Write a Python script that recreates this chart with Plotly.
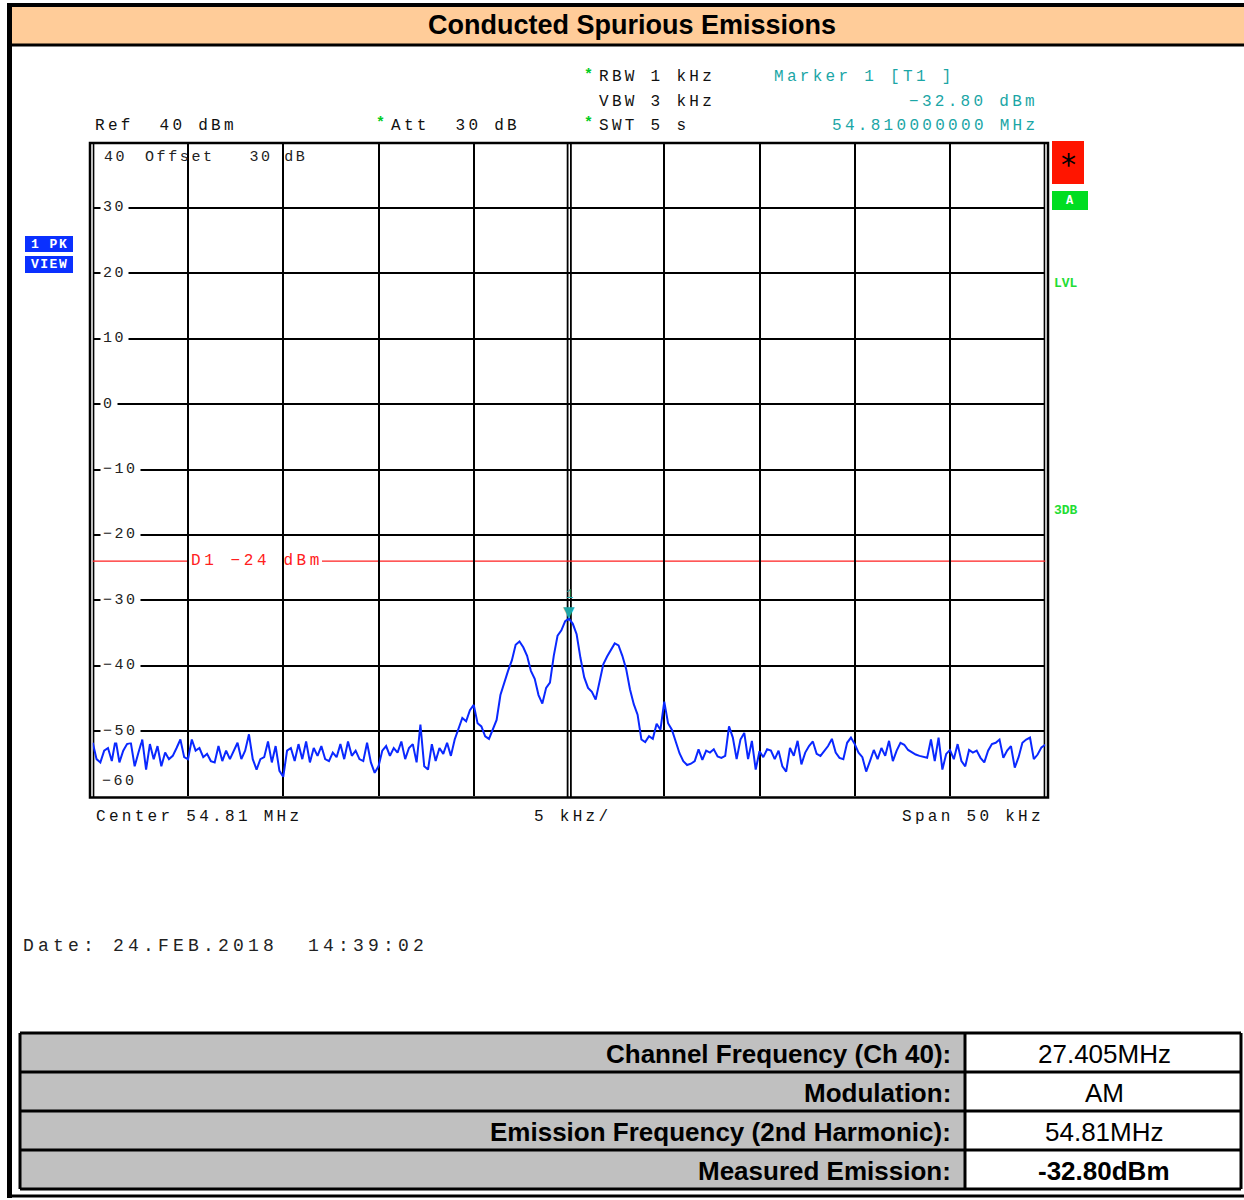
import numpy as np
import plotly.graph_objects as go

W, H = 1244, 1200

# ---------------- data ----------------
CENTER_MHZ = 54.81
SPAN_KHZ = 50
KHZ_PER_DIV = 5
REF_DBM = 40
BOTTOM_DBM = -60
DB_PER_DIV = 10
D1_DBM = -24
MARKER_FREQ_MHZ = 54.81
MARKER_DBM = -32.80

# trace levels (dBm), 0.2 kHz steps from -25 kHz to +25 kHz
seg_a = [-51.8, -54.3, -54.8, -53.0, -52.6, -54.6, -51.3, -54.8, -53.0, -52.0,
         -51.8, -55.4, -53.3, -51.3, -55.9, -52.0, -54.3, -52.3, -55.4, -53.3,
         -54.3, -53.8, -52.6, -51.3, -54.0]
seg_b = [-54.3, -51.3, -53.0, -52.6, -54.0, -53.5, -54.6, -54.8, -52.3, -54.6,
         -53.0, -54.3, -53.0, -51.8, -54.3, -53.0, -50.5, -54.3, -55.9, -54.3,
         -54.0, -51.6, -54.8, -52.3, -56.1]
seg_c = [-57.0, -53.0, -52.6, -54.6, -52.0, -54.3, -51.6, -54.8, -52.6, -53.8,
         -52.3, -54.3, -54.6, -53.3, -54.0, -52.0, -54.3, -51.6, -53.8, -53.0,
         -54.3, -54.6, -51.8, -54.8, -56.4]
seg_d = [-55.4, -53.0, -52.3, -53.8, -52.6, -53.3, -51.6, -54.3, -52.6, -52.0,
         -54.8, -49.0, -55.4, -55.9, -52.0, -54.6, -52.6, -53.5, -51.8, -53.8,
         -51.3, -49.5, -48.0, -48.5, -46.8]
seg_e = [-46.0, -48.8, -49.3, -50.8, -51.2, -49.6, -48.3, -44.5, -42.5, -40.8,
         -39.2, -36.8, -36.3, -37.2, -38.5, -40.8, -42.0, -44.5, -45.8, -43.4,
         -42.6, -38.5, -35.4, -34.6, -33.2]
seg_f = [-32.8, -33.6, -35.2, -38.8, -41.8, -43.4, -44.0, -45.2, -42.2, -39.8,
         -38.6, -37.5, -36.6, -36.9, -38.5, -40.5, -43.6, -45.9, -47.5, -51.3,
         -51.7, -50.8, -51.2, -48.9, -49.8]
seg_g = [-45.5, -48.8, -49.8, -51.5, -53.4, -54.6, -55.2, -55.0, -54.6, -52.8,
         -54.4, -53.0, -53.3, -52.8, -53.9, -54.1, -53.8, -49.3, -51.0, -54.3,
         -51.3, -50.3, -54.3, -51.5, -55.9]
seg_h = [-53.1, -54.0, -52.8, -53.0, -54.3, -53.0, -55.4, -56.2, -52.6, -53.8,
         -51.5, -55.1, -53.3, -52.3, -51.6, -53.5, -53.8, -53.0, -52.3, -51.2,
         -53.3, -54.1, -54.3, -51.8, -51.0]
seg_i = [-52.0, -53.3, -54.0, -56.2, -54.6, -52.9, -54.3, -52.6, -53.8, -51.5,
         -54.6, -53.0, -51.8, -52.1, -52.9, -53.3, -53.6, -53.8, -54.0, -54.1,
         -51.3, -54.6, -51.0, -55.9, -53.5]
seg_j = [-52.9, -54.3, -52.0, -54.6, -55.4, -52.9, -53.3, -53.0, -54.1, -54.8,
         -53.0, -52.0, -51.8, -51.3, -54.1, -53.0, -52.3, -55.6, -54.0, -51.8,
         -51.3, -51.0, -54.3, -53.6, -52.5, -52.1]

trace_dbm = seg_a + seg_b + seg_c + seg_d + seg_e + seg_f + seg_g + seg_h + seg_i + seg_j
offset_khz = np.linspace(-SPAN_KHZ / 2, SPAN_KHZ / 2, len(trace_dbm))
freq_mhz = CENTER_MHZ + offset_khz / 1000.0

y_tick_vals = [30, 20, 10, 0, -10, -20, -30, -40, -50]
y_tick_text = ["30", "20", "10", "0", "\u221210", "\u221220", "\u221230", "\u221240", "\u221250"]

table_labels = ["Channel Frequency (Ch 40):", "Modulation:",
                "Emission Frequency (2nd Harmonic):", "Measured Emission:"]
table_values = ["27.405MHz", "AM", "54.81MHz", "-32.80dBm"]
table_value_bold = [False, False, False, True]

TITLE = "Conducted Spurious Emissions"
DATE_TEXT = "Date: 24.FEB.2018\u00a0\u00a014:39:02"

# ---------------- helpers ----------------
def PX(x):
    return x / W

def PY(y):
    return 1 - y / H

MONO = "Liberation Mono, DejaVu Sans Mono, monospace"
NARROW = "Liberation Sans Narrow, Liberation Sans, Arial, sans-serif"
TEAL = "#1ba6a6"
GREEN = "#00cc22"

def sp(txt, ls=3.3):
    return '<span style="letter-spacing:%spx">%s</span>' % (ls, txt)

# plot area
X0, X1 = 92.75, 1045.25
Y0, Y1 = 142.6, 796.4

fig = go.Figure()
fig.add_trace(go.Scatter(x=freq_mhz, y=trace_dbm, mode="lines",
                         line=dict(color="#0a28ff", width=2), hoverinfo="skip",
                         showlegend=False))

half = SPAN_KHZ / 2 / 1000.0
x_grid = [CENTER_MHZ + k * KHZ_PER_DIV / 1000.0 for k in range(-5, 6) if k != 0]

fig.update_layout(
    width=W, height=H, margin=dict(l=0, r=0, t=0, b=0),
    paper_bgcolor="white", plot_bgcolor="white", showlegend=False,
    xaxis=dict(domain=[PX(X0), PX(X1)], range=[CENTER_MHZ - half, CENTER_MHZ + half],
               tickmode="array", tickvals=x_grid, showticklabels=False, ticks="",
               showgrid=True, gridcolor="#000", gridwidth=2, zeroline=False,
               showline=False, fixedrange=True),
    yaxis=dict(domain=[PY(Y1), PY(Y0)], range=[BOTTOM_DBM, REF_DBM],
               tickmode="linear", tick0=0, dtick=DB_PER_DIV, showticklabels=False,
               ticks="", showgrid=True, gridcolor="#000", gridwidth=2,
               zeroline=False, showline=False, fixedrange=True),
)

shapes = []
ann = []

# ---- page frame & title bar ----
shapes.append(dict(type="rect", xref="paper", yref="paper", x0=PX(10), x1=PX(1246),
                   y0=PY(45), y1=PY(5), fillcolor="#ffcc99", line=dict(width=0), layer="below"))
shapes.append(dict(type="line", xref="paper", yref="paper", x0=PX(7), x1=PX(1246),
                   y0=PY(5), y1=PY(5), line=dict(color="#000", width=4)))
shapes.append(dict(type="line", xref="paper", yref="paper", x0=PX(7), x1=PX(1246),
                   y0=PY(45), y1=PY(45), line=dict(color="#000", width=3)))
shapes.append(dict(type="line", xref="paper", yref="paper", x0=PX(9.5), x1=PX(9.5),
                   y0=PY(3), y1=PY(1198), line=dict(color="#000", width=5)))
shapes.append(dict(type="line", xref="paper", yref="paper", x0=PX(7), x1=PX(1246),
                   y0=PY(1196), y1=PY(1196), line=dict(color="#000", width=3)))
ann.append(dict(xref="paper", yref="paper", x=PX(632), y=PY(25), text="<b>%s</b>" % TITLE,
                showarrow=False, font=dict(family=NARROW, size=27, color="#000"),
                xanchor="center", yanchor="middle"))

# ---- plot frame ----
shapes.append(dict(type="rect", xref="paper", yref="paper", x0=PX(90), x1=PX(1048),
                   y0=PY(797.5), y1=PY(143), line=dict(color="#000", width=2.5), layer="above"))
for xp in (X0 + 0.8, X1 - 0.8):
    shapes.append(dict(type="line", xref="paper", yref="paper", x0=PX(xp), x1=PX(xp),
                       y0=PY(797.5), y1=PY(143), line=dict(color="#000", width=1.6), layer="between"))
for xp in (567.6, 570.9):
    shapes.append(dict(type="line", xref="paper", yref="paper", x0=PX(xp), x1=PX(xp),
                       y0=PY(797.5), y1=PY(143), line=dict(color="#000", width=1.8), layer="between"))

# D1 display line (broken around its label)
shapes.append(dict(type="line", xref="paper", yref="y", x0=PX(X0), x1=PX(189),
                   y0=D1_DBM, y1=D1_DBM, line=dict(color="#ff2020", width=1.3), layer="between"))
shapes.append(dict(type="line", xref="paper", yref="y", x0=PX(322), x1=PX(X1),
                   y0=D1_DBM, y1=D1_DBM, line=dict(color="#ff2020", width=1.3), layer="between"))
ann.append(dict(xref="paper", yref="y", x=PX(189), y=D1_DBM,
                text=sp("D1\u00a0\u2212%d\u00a0dBm" % (-D1_DBM), 3.6), showarrow=False,
                font=dict(family=MONO, size=16, color="#ff2020"),
                xanchor="left", yanchor="middle"))

# y tick labels inside the grid
for v, t in zip(y_tick_vals, y_tick_text):
    ann.append(dict(xref="paper", yref="y", x=PX(100), y=v, text=sp(t, 2.5), showarrow=False,
                    font=dict(family=MONO, size=15, color="#222"), bgcolor="white",
                    borderpad=2, xanchor="left", yanchor="middle"))
ann.append(dict(xref="paper", yref="paper", x=PX(102), y=PY(158), text=sp(str(REF_DBM), 2.5),
                showarrow=False, font=dict(family=MONO, size=15, color="#222"),
                xanchor="left", yanchor="middle"))
ann.append(dict(xref="paper", yref="paper", x=PX(143), y=PY(158),
                text=sp("Offset\u00a0\u00a0\u00a030\u00a0dB", 2.6), showarrow=False,
                font=dict(family=MONO, size=15, color="#222"), xanchor="left", yanchor="middle"))
ann.append(dict(xref="paper", yref="paper", x=PX(100), y=PY(782),
                text=sp("\u2212" + str(-BOTTOM_DBM), 2.5), showarrow=False,
                font=dict(family=MONO, size=15, color="#222"), xanchor="left", yanchor="middle"))

# marker
ann.append(dict(x=MARKER_FREQ_MHZ, y=MARKER_DBM, text="\u25bc", showarrow=False,
                font=dict(family="DejaVu Sans", size=15, color=TEAL),
                xanchor="center", yanchor="bottom", yshift=-4))
ann.append(dict(x=MARKER_FREQ_MHZ, y=MARKER_DBM, text="1", showarrow=False,
                font=dict(family=MONO, size=12, color=TEAL),
                xanchor="center", yanchor="bottom", yshift=15))

# header texts
def hdr(x, y, text, color="#111", anchor="left", size=16, ls=3.3):
    ann.append(dict(xref="paper", yref="paper", x=PX(x), y=PY(y), text=sp(text, ls),
                    showarrow=False, font=dict(family=MONO, size=size, color=color),
                    xanchor=anchor, yanchor="middle"))

def star(x, y):
    ann.append(dict(xref="paper", yref="paper", x=PX(x), y=PY(y), text="<b>*</b>",
                    showarrow=False, font=dict(family=MONO, size=15, color=GREEN),
                    xanchor="left", yanchor="middle"))

hdr(93, 126, "Ref\u00a0\u00a0%d\u00a0dBm" % REF_DBM)
star(374, 124)
hdr(389, 126, "Att\u00a0\u00a030\u00a0dB")
star(582, 75)
hdr(597, 77, "RBW\u00a01\u00a0kHz")
hdr(597, 102, "VBW\u00a03\u00a0kHz")
star(582, 124)
hdr(597, 126, "SWT\u00a05\u00a0s")
hdr(772, 77, "Marker\u00a01\u00a0[T1\u00a0]", color=TEAL)
hdr(1040, 102, "\u2212%.2f\u00a0dBm" % (-MARKER_DBM), color=TEAL, anchor="right")
hdr(1040, 126, "%.9f\u00a0MHz" % MARKER_FREQ_MHZ, color=TEAL, anchor="right")

# bottom axis texts
hdr(94, 817, "Center\u00a0%g\u00a0MHz" % CENTER_MHZ)
hdr(532, 817, "%d\u00a0kHz/" % KHZ_PER_DIV)
hdr(1046, 817, "Span\u00a0%d\u00a0kHz" % SPAN_KHZ, anchor="right")

# date
hdr(21, 946, DATE_TEXT, color="#222", size=18, ls=4.2)

# side labels
def box(x0, y0, x1, y1, color):
    shapes.append(dict(type="rect", xref="paper", yref="paper", x0=PX(x0), x1=PX(x1),
                       y0=PY(y1), y1=PY(y0), fillcolor=color, line=dict(width=0)))

def ctext(x, y, text, size, color, family=MONO, anchor="center"):
    ann.append(dict(xref="paper", yref="paper", x=PX(x), y=PY(y), text=text,
                    showarrow=False, xanchor=anchor, yanchor="middle",
                    font=dict(family=family, size=size, color=color)))

box(25, 236, 73, 252, "#0a30ff")
box(25, 256, 73, 273, "#0a30ff")
ctext(49, 244, sp("<b>1\u00a0PK</b>", 1.5), 13, "white")
ctext(49, 264.5, sp("<b>VIEW</b>", 1.5), 13, "white")
box(1052, 141, 1084, 184, "#ff1500")
ctext(1068, 164, "*", 30, "#000", family="DejaVu Sans")
box(1052, 191, 1088, 210, "#00dd22")
ctext(1070, 200.5, "<b>A</b>", 12, "white")
ctext(1052, 283, "<b>LVL</b>", 13, "#22dd33", anchor="left")
ctext(1052, 510, "<b>3DB</b>", 13, "#22dd33", anchor="left")

# ---- table ----
T_X0, T_X1, T_SPLIT = 20, 1241, 965
row_edges = [1033, 1072, 1111, 1150, 1189]
for i in range(len(table_labels)):
    top, bot = row_edges[i], row_edges[i + 1]
    box(T_X0, top, T_SPLIT, bot, "#c0c0c0")
    mid = (top + bot) / 2
    ann.append(dict(xref="paper", yref="paper", x=PX(953), y=PY(mid + 1),
                    text="<b>%s</b>" % table_labels[i], showarrow=False,
                    font=dict(family=NARROW, size=26, color="#000"),
                    xanchor="right", yanchor="middle"))
    val = table_values[i]
    if table_value_bold[i]:
        val = "<b>%s</b>" % val
    ann.append(dict(xref="paper", yref="paper", x=PX(1104), y=PY(mid + 1), text=val,
                    showarrow=False, font=dict(family=NARROW, size=26, color="#000"),
                    xanchor="center", yanchor="middle"))
for yv in row_edges:
    shapes.append(dict(type="line", xref="paper", yref="paper", x0=PX(T_X0), x1=PX(T_X1),
                       y0=PY(yv), y1=PY(yv), line=dict(color="#000", width=3)))
for xv in (T_X0, T_SPLIT, T_X1):
    shapes.append(dict(type="line", xref="paper", yref="paper", x0=PX(xv), x1=PX(xv),
                       y0=PY(row_edges[0]), y1=PY(row_edges[-1]), line=dict(color="#000", width=3)))

fig.update_layout(shapes=shapes, annotations=ann)
fig.write_html(
    "out.html",
    config={"displayModeBar": False},
    post_script=("document.body.style.margin='0';document.body.style.padding='0';"
                 "document.body.style.overflow='hidden';"
                 "document.documentElement.style.overflow='hidden';"),
)
